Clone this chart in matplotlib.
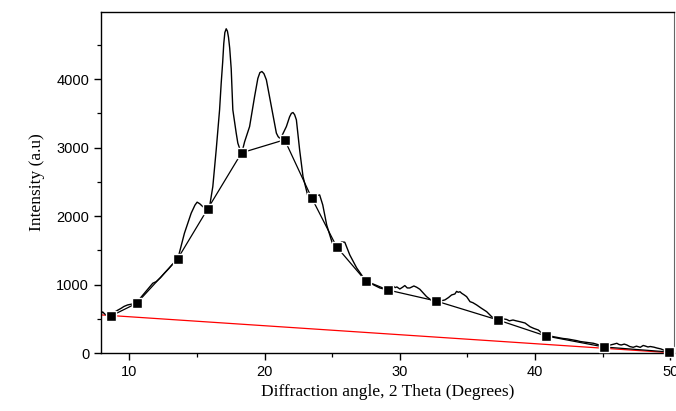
"""Difratograma (XRD) com linha de base por pontos e reta de fundo."""
import matplotlib
matplotlib.use("Agg")
import matplotlib.pyplot as plt
from matplotlib.ticker import MultipleLocator

theta = [7.9, 8.02, 8.15, 8.27, 8.45, 8.64, 9.0, 9.39, 9.6, 9.87, 10.2, 10.5,
         10.8, 11.11, 11.4, 11.73, 11.98, 12.3, 12.59, 12.9, 13.21, 13.58,
         14.07, 14.57, 14.85, 15.01, 15.2, 15.43, 15.78, 15.93, 16.17, 16.42,
         16.67, 16.79, 16.9, 16.98, 17.06, 17.16, 17.25, 17.33, 17.42, 17.53,
         17.65, 17.9, 18.02, 18.15, 18.27, 18.4, 18.52, 18.89, 19.26, 19.5,
         19.65, 19.8, 19.95, 20.13, 20.5, 20.87, 21.0, 21.11, 21.3, 21.61,
         21.85, 21.98, 22.1, 22.22, 22.35, 22.59, 22.84, 23.21, 23.48, 23.78,
         24.07, 24.3, 24.59, 25.01, 25.41, 25.7, 25.93, 26.3, 26.81, 27.43,
         27.93, 28.52, 29.11, 29.3, 29.48, 29.65, 29.78, 30.0, 30.2, 30.37,
         30.55, 30.74, 31.04, 31.25, 31.48, 31.98, 32.47, 32.67, 33.0, 33.33,
         33.6, 33.83, 34.07, 34.2, 34.32, 34.45, 34.57, 34.75, 34.94, 35.19,
         35.4, 35.68, 36.0, 36.42, 36.79, 37.26, 37.6, 37.9, 38.1, 38.37,
         38.6, 38.89, 39.26, 39.63, 39.9, 40.24, 40.74, 41.0, 41.36, 41.7,
         42.07, 42.4, 42.84, 43.1, 43.33, 43.8, 44.32, 44.7, 45.06, 45.3,
         45.56, 45.8, 46.05, 46.2, 46.37, 46.6, 46.79, 47.0, 47.26, 47.5,
         47.78, 48.0, 48.15, 48.35, 48.52, 48.8, 49.01, 49.3, 49.63, 50.05]
intensidade = [570, 600, 575, 555, 560, 541, 610, 653, 680, 702, 715, 735,
               800, 873, 940, 1019, 1042, 1100, 1165, 1230, 1301, 1374,
               1749, 2042, 2160, 2203, 2180, 2138, 2100, 2138, 2431, 2967,
               3551, 3942, 4250, 4520, 4680, 4735, 4700, 4610, 4450, 4150,
               3551, 3211, 3065, 2990, 2942, 2990, 3084, 3307, 3746, 4010,
               4095, 4111, 4080, 3990, 3600, 3211, 3160, 3138, 3180, 3307,
               3450, 3500, 3512, 3480, 3405, 2967, 2577, 2284, 2265, 2294,
               2309, 2163, 1871, 1603, 1578, 1622, 1618, 1432, 1242, 1067,
               1008, 950, 921, 960, 985, 955, 965, 935, 960, 985,
               950, 950, 979, 960, 931, 823, 750, 741, 760, 775,
               810, 848, 862, 900, 887, 895, 873, 850, 823, 750,
               735, 702, 658, 604, 531, 475, 500, 490, 470, 482,
               470, 457, 438, 384, 360, 336, 248, 255, 238, 225,
               212, 205, 190, 180, 168, 155, 142, 120, 80, 105,
               117, 128, 142, 125, 117, 130, 117, 95, 83, 100,
               83, 110, 102, 88, 95, 85, 73, 60, 34, 15]

# pontos da linha de base (quadrados)
base_x = [8.64, 10.54, 13.58, 15.78, 18.3, 21.48, 23.48, 25.33, 27.48,
          29.1, 32.67, 37.26, 40.8, 45.1, 49.9]
base_y = [541, 726, 1379, 2101, 2924, 3114, 2266, 1550, 1053,
          921, 760, 482, 249, 88, 15]

# reta de fundo (vermelha)
fundo_x = [7.9, 50.0]
fundo_y = [557, 5]

fig = plt.figure(figsize=(6.76, 4.11), dpi=100)
ax = fig.add_axes([0.1494, 0.1411, 0.8481, 0.8297])

ax.plot(theta, intensidade, color="black", linewidth=1.0, zorder=3)
ax.plot(fundo_x, fundo_y, color="red", linewidth=0.9, zorder=2)
ax.plot(base_x, base_y, color="black", linewidth=0.9, marker="s",
        markersize=6.5, markerfacecolor="black", markeredgecolor="white",
        markeredgewidth=1.0, zorder=4, clip_on=False)

ax.set_xlim(7.9, 50.3)
ax.set_ylim(0, 4980)
ax.xaxis.set_major_locator(MultipleLocator(10))
ax.xaxis.set_minor_locator(MultipleLocator(5))
ax.yaxis.set_major_locator(MultipleLocator(1000))
ax.yaxis.set_minor_locator(MultipleLocator(500))
ax.tick_params(which="both", direction="out", labelsize=10.5,
               top=False, right=False)
ax.tick_params(which="major", length=5, width=1.0)
ax.tick_params(which="minor", length=3, width=0.9)
for lab in ax.get_xticklabels() + ax.get_yticklabels():
    lab.set_family("Liberation Sans")

for lado in ("left", "bottom", "top"):
    ax.spines[lado].set_linewidth(1.0)
ax.spines["right"].set_color("#666666")

ax.set_xlabel("Diffraction angle, 2 Theta (Degrees)",
              family="Liberation Serif", fontsize=12.5, labelpad=4)
ax.set_ylabel("Intensity (a.u)", family="Liberation Serif",
              fontsize=12.5, labelpad=8)

fig.savefig("out.png", dpi=100)
plt.close(fig)
